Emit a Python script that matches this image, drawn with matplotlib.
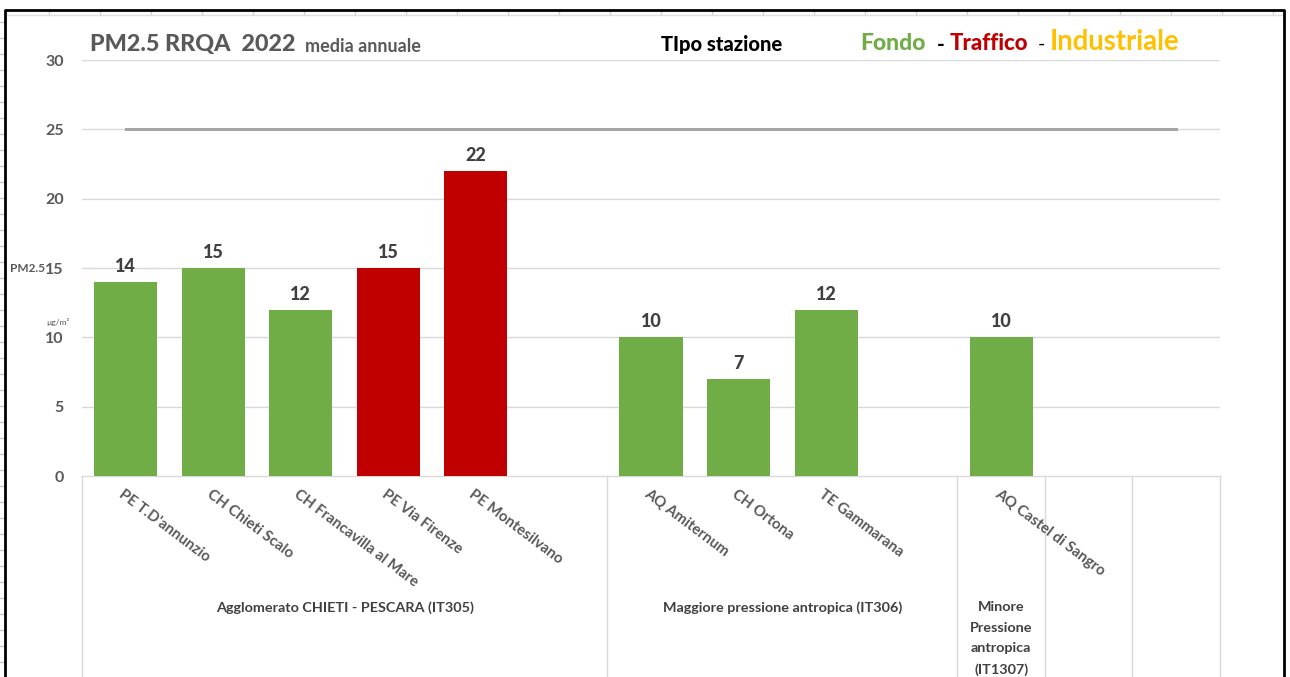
import matplotlib.pyplot as plt

plt.rcParams['font.family'] = ['Lato', 'DejaVu Sans']

stations = ["PE T.D'annunzio", "CH Chieti Scalo", "CH Francavilla al Mare", "PE Via Firenze",
            "PE Montesilvano", "", "AQ Amiternum", "CH Ortona", "TE Gammarana", "",
            "AQ Castel di Sangro", "", ""]
values = [14, 15, 12, 15, 22, None, 10, 7, 12, None, 10, None, None]
tipo = ["Fondo", "Fondo", "Fondo", "Traffico", "Traffico", "", "Fondo", "Fondo", "Fondo", "",
        "Fondo", "", ""]
limite = 25

groups = ["Agglomerato CHIETI - PESCARA (IT305)", "Maggiore pressione antropica (IT306)",
          "Minore\nPressione\nantropica\n(IT1307)", "", ""]
group_slots = [6, 4, 1, 1, 1]

colori = {"Fondo": "#70AD47", "Traffico": "#C00000", "Industriale": "#FFC000"}
grigio = "#595959"

W, H = 1290, 677
fig = plt.figure(figsize=(W / 100, H / 100), dpi=100)

# pixel-space overlay for the sheet frame and free text
ov = fig.add_axes([0, 0, 1, 1])
ov.set_xlim(0, W)
ov.set_ylim(H, 0)
ov.axis('off')

x0, x1, y0, y1 = 82, 1220, 476, 60
ax = fig.add_axes([x0 / W, (H - y0) / H, (x1 - x0) / W, (y0 - y1) / H])

n = len(stations)
for i, (v, t) in enumerate(zip(values, tipo)):
    if v is None:
        continue
    ax.bar(i, v, width=0.72, color=colori[t], zorder=3)
    ax.annotate(str(v), (i, v), xytext=(0, 5), textcoords='offset points',
                ha='center', va='bottom', fontsize=13, fontweight='black', color="#404040")

ax.plot([0, n - 1], [limite, limite], color="#A5A5A5", lw=2.2, zorder=2)

ax.set_xlim(-0.5, n - 0.5)
ax.set_ylim(0, 30)
ax.set_yticks(range(0, 31, 5))
ax.set_xticks([])
ax.yaxis.grid(True, color="#D9D9D9", lw=1)
ax.set_axisbelow(True)
for s in ax.spines.values():
    s.set_visible(False)
ax.tick_params(axis='y', length=0, pad=13, labelsize=11.5, labelcolor=grigio)
for lab in ax.get_yticklabels():
    lab.set_fontweight('bold')

# category axis: rotated station names
for i, name in enumerate(stations):
    if name:
        ax.text(i - 0.06, -1.2, name, rotation=-37, rotation_mode='anchor', ha='left', va='center',
                fontsize=10.8, color=grigio, fontweight='bold')

# group boxes below the axis
ov.plot([x0, x1], [y0, y0], color="#D9D9D9", lw=1)
slot = (x1 - x0) / n
edge = x0
ov.plot([edge, edge], [y0, H], color="#D9D9D9", lw=1)
for g, k in zip(groups, group_slots):
    right = edge + k * slot
    ov.plot([right, right], [y0, H], color="#D9D9D9", lw=1)
    if g:
        ov.text((edge + right) / 2, 601, g, ha='center', va='top', fontsize=10.4,
                color="#404040", fontweight='bold', linespacing=1.85)
    edge = right

# sheet cells and chart frame
for xc in range(49, 1280, 51):
    ov.plot([xc, xc], [10, 15], color="#D0D0D0", lw=1)
ov.plot([6, 1284], [15, 15], color="#E0E0E0", lw=1)
for yc in range(22, H, 16):
    ov.plot([0, 4], [yc, yc], color="#C8C8C8", lw=1)
ov.plot([5, 5, 1284, 1284], [H, 10, 10, H], color="black", lw=2)

# titles
ov.text(90, 44, "PM2.5 RRQA  2022", fontsize=16.8, fontweight='black', color=grigio, va='center')
ov.text(305, 46, "media annuale", fontsize=13, fontweight='bold', color=grigio, va='center')
ov.text(722, 44, "TIpo stazione", fontsize=14.5, fontweight='black', color="black",
        va='center', ha='center')
ov.text(860, 44, "Fondo", fontsize=16.5, fontweight='black', color=colori["Fondo"], va='center')
ov.text(937, 44, "-", fontsize=15, fontweight='black', color="black", va='center')
ov.text(950, 44, "Traffico", fontsize=16, fontweight='black', color=colori["Traffico"], va='center')
ov.text(1038, 44, "-", fontsize=14, color="black", va='center')
ov.text(1050, 42, "Industriale", fontsize=19.8, fontweight='bold', color=colori["Industriale"],
        va='center')

# y-axis title
ov.text(10, 268, "PM2.5", fontsize=8.5, fontweight='bold', color=grigio, va='center')
ov.text(46, 322, "µg/m³", fontsize=6, color=grigio, va='center')

fig.savefig("out.png", dpi=100)
